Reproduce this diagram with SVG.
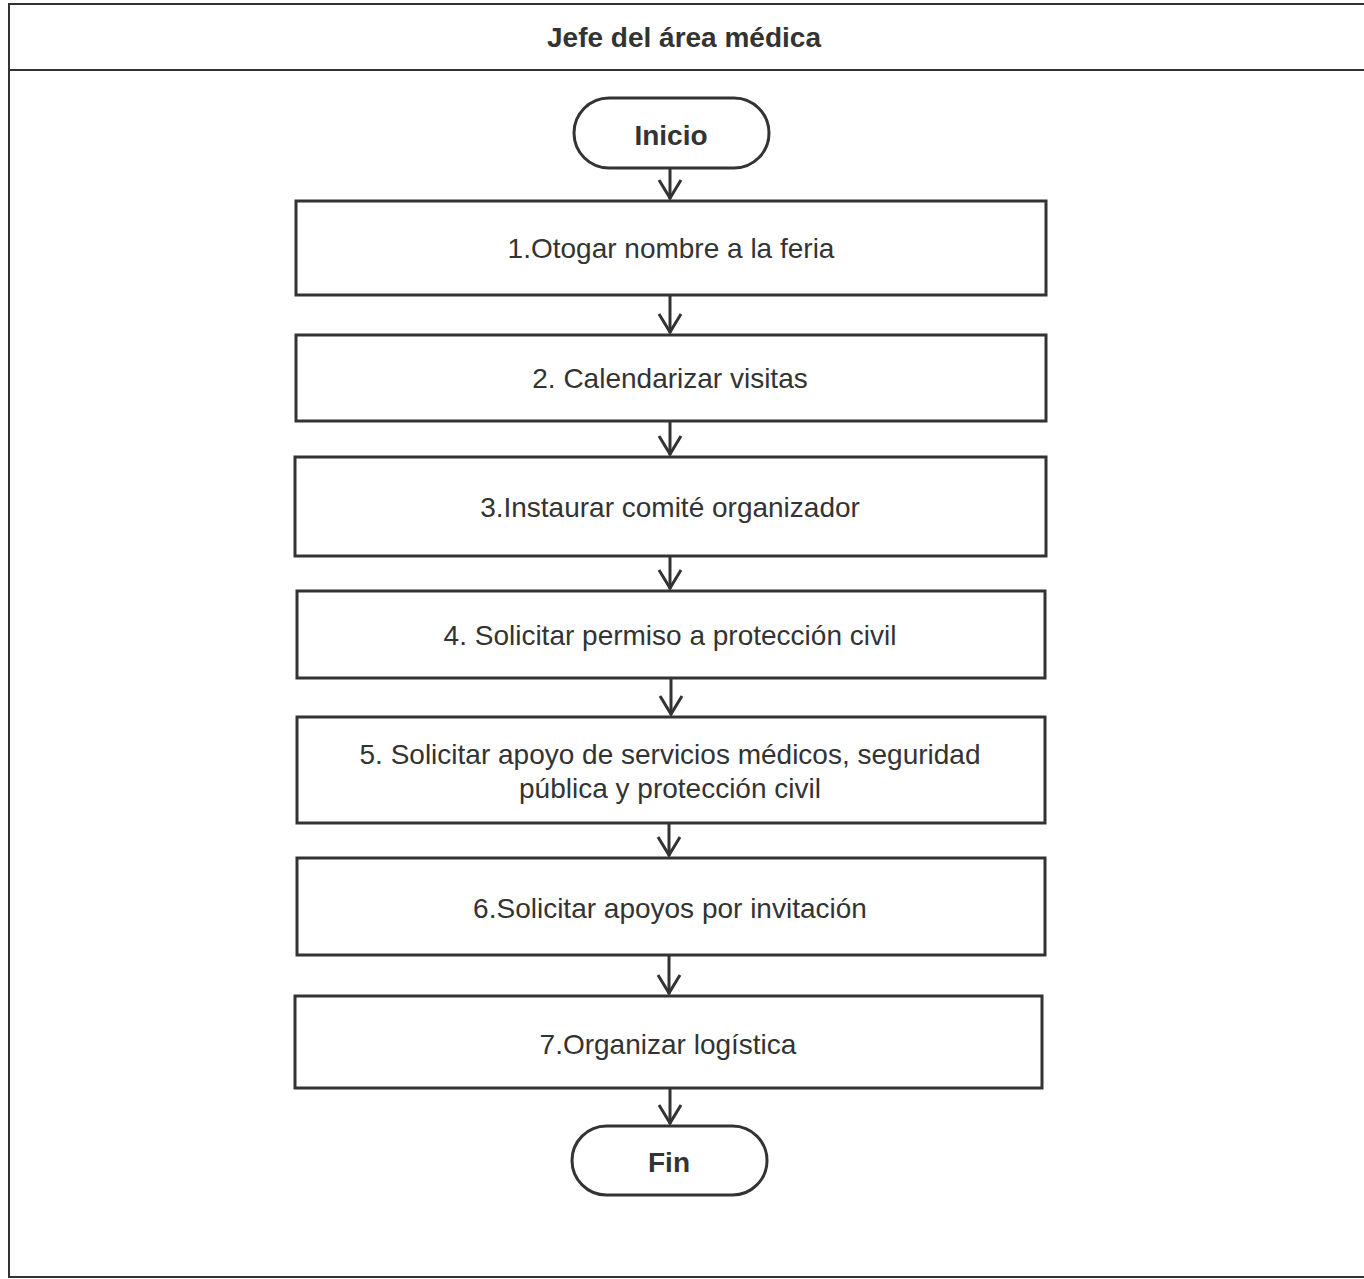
<svg xmlns="http://www.w3.org/2000/svg" width="1364" height="1279" viewBox="0 0 1364 1279">
<defs>
<style>
.frame{fill:none;stroke:#333;stroke-width:2}
.box{fill:#fff;stroke:#333;stroke-width:3}
.t{font-family:"Liberation Sans",Arial,sans-serif;font-size:28px;fill:#333;text-anchor:middle}
.b{font-weight:bold;font-size:28px}
.c{fill:none;stroke:#333;stroke-width:3}
.h{fill:none;stroke:#333;stroke-width:3;stroke-linejoin:miter}
</style>
</defs>
<rect width="1364" height="1279" fill="#fff"/>
<g id="frame">
<rect class="frame" x="9" y="4" width="1360" height="1273"/>
<line class="frame" x1="9" y1="70" x2="1364" y2="70"/>
<text class="t b" x="684" y="47">Jefe del área médica</text>
</g>
<g id="connectors">
<line class="c" x1="670" y1="168" x2="670" y2="199"/><polyline class="h" points="659,180 670,198 681,180"/>
<line class="c" x1="670" y1="295" x2="670" y2="333"/><polyline class="h" points="659,314 670,332 681,314"/>
<line class="c" x1="670" y1="421" x2="670" y2="455"/><polyline class="h" points="659,436 670,454 681,436"/>
<line class="c" x1="670" y1="556" x2="670" y2="589"/><polyline class="h" points="659,570 670,588 681,570"/>
<line class="c" x1="671" y1="678" x2="671" y2="715"/><polyline class="h" points="660,696 671,714 682,696"/>
<line class="c" x1="669" y1="823" x2="669" y2="856"/><polyline class="h" points="658,837 669,855 680,837"/>
<line class="c" x1="669" y1="955" x2="669" y2="994"/><polyline class="h" points="658,975 669,993 680,975"/>
<line class="c" x1="670" y1="1088" x2="670" y2="1124"/><polyline class="h" points="659,1105 670,1123 681,1105"/>
</g>
<g id="inicio">
<rect class="box" x="574" y="98" width="195" height="70" rx="35"/>
<text class="t b" x="671" y="145">Inicio</text>
</g>
<g id="step1">
<rect class="box" x="296" y="201" width="750" height="94"/>
<text class="t" x="671" y="258">1.Otogar nombre a la feria</text>
</g>
<g id="step2">
<rect class="box" x="296" y="335" width="750" height="86"/>
<text class="t" x="670" y="388">2. Calendarizar visitas</text>
</g>
<g id="step3">
<rect class="box" x="295" y="457" width="751" height="99"/>
<text class="t" x="670" y="517">3.Instaurar comité organizador</text>
</g>
<g id="step4">
<rect class="box" x="297" y="591" width="748" height="87"/>
<text class="t" x="670" y="645">4. Solicitar permiso a protección civil</text>
</g>
<g id="step5">
<rect class="box" x="297" y="717" width="748" height="106"/>
<text class="t" x="670" y="764">5. Solicitar apoyo de servicios médicos, seguridad</text>
<text class="t" x="670" y="798">pública y protección civil</text>
</g>
<g id="step6">
<rect class="box" x="297" y="858" width="748" height="97"/>
<text class="t" x="670" y="918">6.Solicitar apoyos por invitación</text>
</g>
<g id="step7">
<rect class="box" x="295" y="996" width="747" height="92"/>
<text class="t" x="668" y="1054">7.Organizar logística</text>
</g>
<g id="fin">
<rect class="box" x="572" y="1126" width="195" height="69" rx="34.5"/>
<text class="t b" x="669" y="1172">Fin</text>
</g>
</svg>
